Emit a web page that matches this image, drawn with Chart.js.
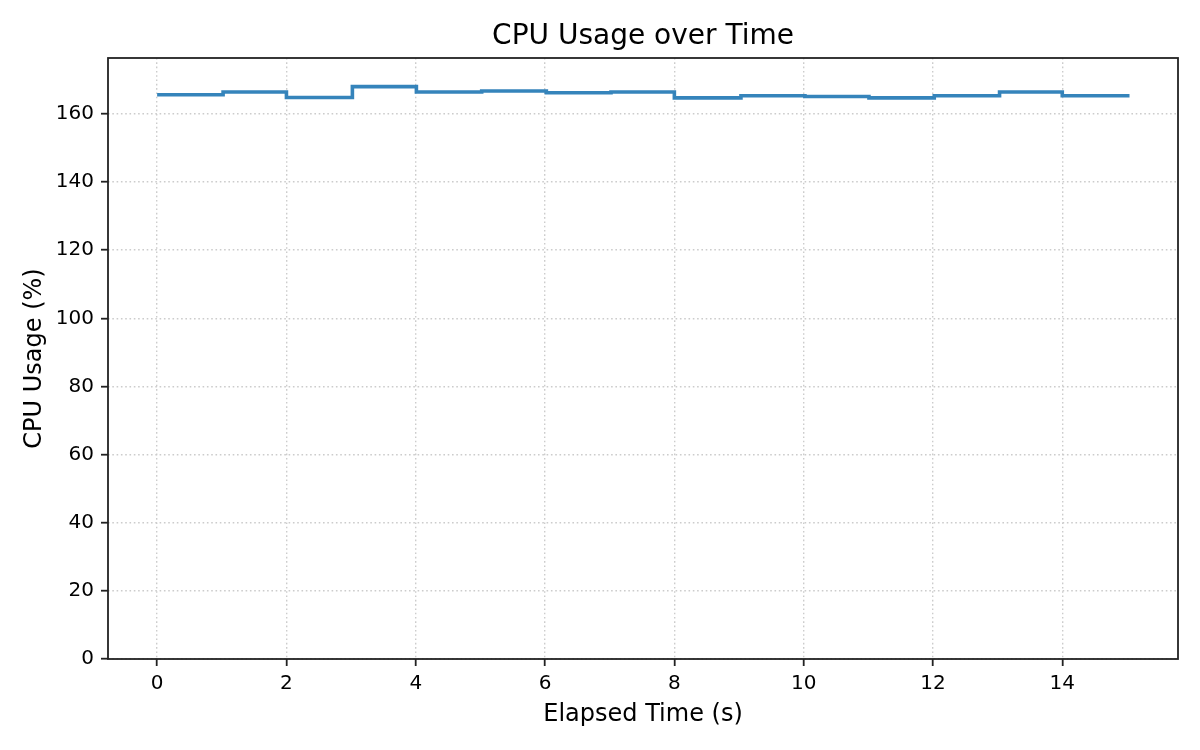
<!DOCTYPE html>
<html>
<head>
<meta charset="utf-8">
<script src="https://cdn.jsdelivr.net/npm/chart.js@4/dist/chart.umd.min.js"></script>
<style>
  html, body { margin: 0; padding: 0; background: #fff; }
  canvas { display: block; }
</style>
</head>
<body>
<canvas id="cpuChart" width="1200" height="750"></canvas>
<script>
// Elapsed time of each sample (s) and CPU usage
const elapsedTime = [0, 1.02, 2.0, 3.02, 4.01, 5.02, 6.02, 7.02, 8.0, 9.03, 10.02, 11.01, 12.02, 13.03, 14.0, 15.04];
const cpuUsage = [165.6, 166.4, 164.8, 168.0, 166.4, 166.7, 166.2, 166.4, 164.7, 165.3, 165.1, 164.7, 165.3, 166.4, 165.3, 165.3];

// Tick labels
const xTicks = [0, 2, 4, 6, 8, 10, 12, 14];
const yTicks = [0, 20, 40, 60, 80, 100, 120, 140, 160];

const FONT = "'DejaVu Sans', sans-serif";

// Black frame round the plot area (matplotlib style)
const frame = {
    id: 'frame',
    afterDraw(chart) {
        const a = chart.chartArea;
        const c = chart.ctx;
        c.save();
        c.strokeStyle = '#222';
        c.lineWidth = 1.8;
        c.setLineDash([]);
        c.strokeRect(a.left, a.top, a.right - a.left, a.bottom - a.top);
        c.restore();
    }
};

const gridOpts = {
    color: '#cccccc',
    lineWidth: 1.4,
    tickColor: '#222',
    tickLength: 7,
    tickWidth: 1.8,
    tickBorderDash: []
};

const ctx = document.getElementById('cpuChart').getContext('2d');
new Chart(ctx, {
    type: 'line',
    data: {
        datasets: [{
            label: 'CPU Usage',
            data: elapsedTime.map((t, i) => ({ x: t, y: cpuUsage[i] })),
            xAxisID: 'x',
            yAxisID: 'y',
            borderColor: 'rgba(31, 119, 180, 0.9)',
            borderWidth: 3.6,
            stepped: true,
            pointRadius: 0,
            fill: false
        }]
    },
    options: {
        responsive: false,
        animation: false,
        devicePixelRatio: 1,
        layout: { padding: { left: 0, right: 22, top: 0, bottom: 0 } },
        plugins: {
            legend: { display: false },
            tooltip: { enabled: false },
            title: { display: false }
        },
        scales: {
            x: {
                type: 'linear',
                min: -0.76,
                max: 15.79,
                afterBuildTicks: s => { s.ticks = xTicks.map(v => ({ value: v })); },
                afterFit: s => { s.height = 91; },
                ticks: {
                    color: '#000',
                    font: { family: FONT, size: 20 },
                    padding: 6,
                    maxRotation: 0
                },
                grid: gridOpts,
                border: { display: false, dash: [1.6, 2.7] },
                title: {
                    display: true,
                    text: 'Elapsed Time (s)',
                    color: '#000',
                    font: { family: FONT, size: 24 },
                    padding: { top: 0, bottom: 21 }
                }
            },
            y: {
                type: 'linear',
                min: 0,
                max: 176.4,
                afterBuildTicks: s => { s.ticks = yTicks.map(v => ({ value: v })); },
                afterFit: s => { s.width = 108; },
                ticks: {
                    color: '#000',
                    font: { family: FONT, size: 20 },
                    padding: 7
                },
                grid: gridOpts,
                border: { display: false, dash: [1.6, 2.7] },
                title: {
                    display: true,
                    text: 'CPU Usage (%)',
                    color: '#000',
                    font: { family: FONT, size: 24 },
                    padding: { top: 20, bottom: 0 }
                }
            },
            // top axis only carries the chart title, centred over the plot area
            titleAxis: {
                type: 'linear',
                axis: 'x',
                position: 'top',
                afterFit: s => { s.height = 58; },
                ticks: { display: false },
                grid: { display: false, drawTicks: false },
                border: { display: false },
                title: {
                    display: true,
                    text: 'CPU Usage over Time',
                    color: '#000',
                    font: { family: FONT, size: 28, weight: 'normal' },
                    padding: { top: 19.5, bottom: 0 }
                }
            }
        }
    },
    plugins: [frame]
});
</script>
</body>
</html>
